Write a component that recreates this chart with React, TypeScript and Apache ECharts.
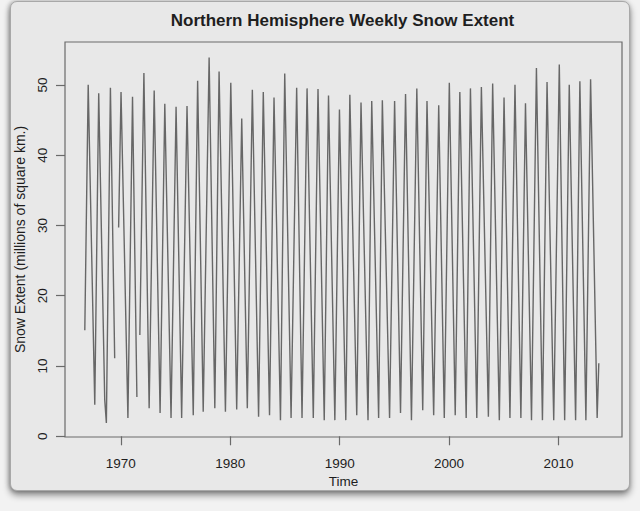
import React, { useEffect, useRef } from "react";
import * as echarts from "echarts";

// Decimal year of each turning point (start, winter peaks, summer troughs, gap edges)
const times: number[] = [
  1966.71, 1967.02, 1967.62, 1967.98, 1968.53, 1968.68, 1969.05, 1969.44, 1969.6, 1969.8,
  1970.02, 1970.65, 1971.07, 1971.47, 1971.6, 1971.74, 1972.11, 1972.59, 1973.05, 1973.59,
  1974.02, 1974.59, 1975.05, 1975.56, 1976.05, 1976.62, 1977.02, 1977.53, 1978.07, 1978.59,
  1978.98, 1979.56, 1980.05, 1980.59, 1981.05, 1981.56, 1982.02, 1982.59, 1983.02, 1983.59,
  1984.0, 1984.59, 1984.98, 1985.56, 1986.07, 1986.56, 1987.02, 1987.59, 1988.02, 1988.59,
  1988.98, 1989.56, 1989.98, 1990.56, 1990.93, 1991.56, 1991.95, 1992.59, 1992.93, 1993.56,
  1993.9, 1994.56, 1995.02, 1995.56, 1996.02, 1996.56, 1997.05, 1997.59, 1997.98, 1998.59,
  1999.05, 1999.56, 2000.02, 2000.56, 2000.98, 2001.56, 2001.95, 2002.53, 2002.95, 2003.59,
  2003.98, 2004.59, 2005.02, 2005.56, 2006.02, 2006.56, 2006.98, 2007.53, 2007.98, 2008.53,
  2008.95, 2009.56, 2010.07, 2010.56, 2010.98, 2011.56, 2011.95, 2012.5, 2012.93, 2013.53,
  2013.68,
];

// Snow extent (millions of km²) at those times; null = missing data (gap)
const extent: (number | null)[] = [
  15.1, 50.0, 4.5, 48.8, 5.2, 1.9, 49.6, 11.1, null, 29.7,
  49.0, 2.6, 48.3, 5.6, null, 14.4, 51.7, 4.0, 49.2, 3.3,
  47.3, 2.6, 46.9, 2.6, 47.0, 3.0, 50.6, 3.5, 53.9, 4.0,
  51.9, 3.5, 50.3, 3.8, 45.2, 4.0, 49.3, 2.8, 49.0, 3.0,
  48.2, 2.3, 51.6, 2.6, 49.6, 2.6, 49.5, 2.6, 49.4, 2.3,
  48.5, 2.3, 46.5, 2.3, 48.6, 3.0, 47.5, 2.3, 47.7, 2.6,
  47.8, 2.6, 47.7, 3.3, 48.7, 2.3, 49.5, 3.7, 47.7, 3.0,
  47.1, 2.6, 50.3, 3.0, 49.0, 2.6, 49.5, 2.6, 49.7, 2.8,
  50.2, 2.3, 48.2, 2.6, 50.0, 2.6, 47.4, 2.3, 52.4, 2.3,
  50.4, 2.3, 52.9, 2.3, 50.0, 2.3, 50.5, 2.3, 50.8, 2.6,
  10.4,
];

const xTicks = [1970, 1980, 1990, 2000, 2010];
const yTicks = [0, 10, 20, 30, 40, 50];

const FONT = "'Liberation Sans', Arial, Helvetica, sans-serif";
const INK = "#1e1e1e";
const FRAME = "#6a6a6a";

export default function App() {
  const ref = useRef<HTMLDivElement>(null);

  useEffect(() => {
    if (!ref.current) return;
    const chart = echarts.init(ref.current, null, { renderer: "svg" });
    const data = times.map((t, i) => [t, extent[i] === null ? "-" : extent[i]]);
    chart.setOption({
      animation: false,
      backgroundColor: "transparent",
      graphic: [
        {
          type: "text",
          x: 342.5,
          y: 20,
          style: {
            text: "Northern Hemisphere Weekly Snow Extent",
            fontFamily: FONT,
            fontSize: 17,
            fontWeight: "bold",
            fill: INK,
            align: "center",
            verticalAlign: "middle",
          },
        },
      ],
      grid: {
        left: 65,
        right: 18,
        top: 42,
        bottom: 74,
        show: true,
        borderColor: FRAME,
        borderWidth: 1.2,
        backgroundColor: "transparent",
      },
      xAxis: {
        type: "value",
        min: 1964.9,
        max: 2015.8,
        name: "Time",
        nameLocation: "middle",
        nameGap: 36,
        nameTextStyle: { fontFamily: FONT, fontSize: 13.5, color: INK },
        axisLine: { show: false },
        splitLine: { show: false },
        axisTick: {
          show: true,
          customValues: xTicks,
          length: 9,
          lineStyle: { color: FRAME, width: 1.2 },
        },
        axisLabel: {
          customValues: xTicks,
          margin: 19,
          fontFamily: FONT,
          fontSize: 13.5,
          color: INK,
          formatter: (v: number) => String(v),
        },
      },
      yAxis: {
        type: "value",
        min: -0.1,
        max: 56.1,
        name: "Snow Extent (millions of square km.)",
        nameLocation: "middle",
        nameRotate: 90,
        nameGap: 32,
        nameTextStyle: { fontFamily: FONT, fontSize: 14, color: INK },
        axisLine: { show: false },
        splitLine: { show: false },
        axisTick: {
          show: true,
          customValues: yTicks,
          length: 9,
          lineStyle: { color: FRAME, width: 1.2 },
        },
        axisLabel: {
          customValues: yTicks,
          rotate: 90,
          margin: 16,
          fontFamily: FONT,
          fontSize: 13.5,
          color: INK,
          formatter: (v: number) => String(v),
        },
      },
      series: [
        {
          type: "line",
          data,
          symbol: "none",
          showSymbol: false,
          connectNulls: false,
          lineStyle: { color: "#676767", width: 1.4 },
        },
      ],
    });
    return () => chart.dispose();
  }, []);

  return (
    <div
      style={{
        position: "fixed",
        left: 0,
        top: 0,
        width: 640,
        height: 511,
        background: "#f2f2f2",
        overflow: "hidden",
      }}
    >
      <div
        style={{
          position: "absolute",
          left: 10,
          top: 1,
          width: 620,
          height: 490,
          background: "#e8e8e8",
          border: "1px solid #a8a8a8",
          borderRadius: 7,
          boxShadow: "0 4px 7px rgba(0,0,0,0.45), -1px 0 4px rgba(0,0,0,0.25)",
          boxSizing: "border-box",
        }}
      />
      <div
        ref={ref}
        style={{ position: "absolute", left: 0, top: 0, width: 640, height: 511 }}
      />
    </div>
  );
}
